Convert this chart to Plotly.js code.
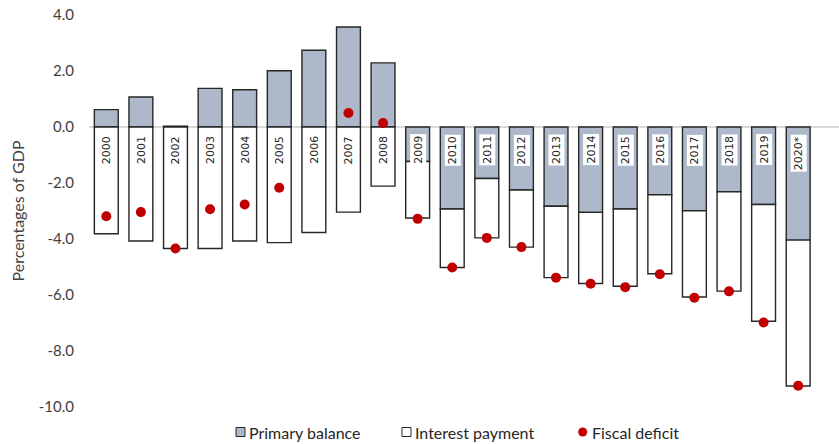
<!DOCTYPE html>
<html>
<head>
<meta charset="utf-8">
<script src="https://cdn.plot.ly/plotly-3.0.1.min.js"></script>
<style>
  html, body { margin: 0; padding: 0; background: #fff; }
  #chart { width: 839px; height: 444px; }
</style>
</head>
<body>
<div id="chart"></div>
<script>
// Fiscal balance decomposition, percentages of GDP
const years = ['2000','2001','2002','2003','2004','2005','2006','2007','2008','2009',
               '2010','2011','2012','2013','2014','2015','2016','2017','2018','2019','2020*'];
const primaryBalance = [0.62, 1.07, 0.03, 1.38, 1.33, 2.01, 2.74, 3.57, 2.29, -1.23,
                        -2.93, -1.84, -2.25, -2.83, -3.05, -2.93, -2.42, -2.99, -2.31, -2.77, -4.04];
const interestPayment = [3.81, 4.07, 4.34, 4.34, 4.07, 4.13, 3.77, 3.04, 2.11, 2.02,
                         2.09, 2.12, 2.04, 2.55, 2.54, 2.76, 2.82, 3.08, 3.55, 4.17, 5.21];
const fiscalDeficit = [-3.19, -3.04, -4.34, -2.94, -2.77, -2.17, -1.03, 0.50, 0.14, -3.28,
                       -5.02, -3.96, -4.29, -5.38, -5.60, -5.72, -5.26, -6.10, -5.87, -6.98, -9.24];
const yTicks = [4, 2, 0, -2, -4, -6, -8, -10];
const legendLabels = ['Primary balance', 'Interest payment', 'Fiscal deficit'];

const FONT = 'Lato, "Noto Sans", sans-serif';
const GREY_BLUE = '#ADB9CA';
const RED = '#C00000';
const EDGE = '#262626';

// page geometry of the plotting area
const W = 839, H = 444, L = 89, R = 0, T = 15, B = 37;
const px = x => (x - L) / (W - L - R);
const py = y => (H - B - y) / (H - T - B);

const traces = [
  {
    type: 'bar', name: legendLabels[0], x: years, y: primaryBalance,
    marker: { color: GREY_BLUE, line: { color: EDGE, width: 1.4 } },
    hoverinfo: 'x+y'
  },
  {
    type: 'bar', name: legendLabels[1], x: years, y: interestPayment.map(v => -v),
    marker: { color: '#FFFFFF', line: { color: EDGE, width: 1.4 } },
    hoverinfo: 'x+y'
  },
  {
    type: 'scatter', mode: 'markers', name: legendLabels[2], x: years, y: fiscalDeficit,
    marker: { color: RED, size: 10 }, cliponaxis: false,
    hoverinfo: 'x+y'
  }
];

// year labels sit just under the zero line, across the bars
// (category axes take the position index here)
const yearLabels = years.map((yr, i) => ({
  x: i, y: 0, xref: 'x', yref: 'y',
  text: yr, showarrow: false, textangle: -90,
  xanchor: 'center', yanchor: 'top', yshift: -7,
  bgcolor: '#FFFFFF', borderpad: 1,
  font: { family: '"DejaVu Sans", sans-serif', size: 11, color: EDGE }
}));

// light zero line kept underneath the bars
const zeroLine = {
  type: 'line', layer: 'below', xref: 'paper', yref: 'y',
  x0: 0, x1: 1, y0: 0, y1: 0,
  line: { color: '#D9D9D9', width: 2 }
};

// legend row along the bottom
const legendShapes = [
  { type: 'rect', xref: 'paper', yref: 'paper',
    x0: px(236), x1: px(245), y0: py(436.5), y1: py(427.5),
    fillcolor: GREY_BLUE, line: { color: EDGE, width: 1 } },
  { type: 'rect', xref: 'paper', yref: 'paper',
    x0: px(402), x1: px(411), y0: py(436.5), y1: py(427.5),
    fillcolor: '#FFFFFF', line: { color: EDGE, width: 1 } },
  { type: 'circle', xref: 'paper', yref: 'paper',
    x0: px(578.2), x1: px(587.2), y0: py(436.5), y1: py(427.5),
    fillcolor: RED, line: { color: RED, width: 0 } }
];
const legendText = [
  [legendLabels[0], 247], [legendLabels[1], 413], [legendLabels[2], 590]
].map(([t, x]) => ({
  x: px(x), y: py(432), xref: 'paper', yref: 'paper',
  text: t, showarrow: false, xanchor: 'left', yanchor: 'middle',
  font: { family: FONT, size: 16, color: EDGE }
}));

const layout = {
  width: W, height: H,
  margin: { l: L, r: R, t: T, b: B, pad: 0 },
  paper_bgcolor: '#FFFFFF', plot_bgcolor: '#FFFFFF',
  barmode: 'relative', bargap: 0.31,
  showlegend: false,
  font: { family: FONT, size: 15, color: '#404040' },
  xaxis: {
    type: 'category', range: [-0.5, 21.18],
    showticklabels: false, showgrid: false, zeroline: false, showline: false, ticks: ''
  },
  yaxis: {
    range: [-10, 4], tickvals: yTicks, ticktext: yTicks.map(v => v.toFixed(1)),
    showgrid: false, showline: false, ticks: '', zeroline: false,
    ticklabelstandoff: 14,
    tickfont: { family: FONT, size: 15, color: '#404040' },
    title: { text: 'Percentages of GDP', standoff: 10,
             font: { family: FONT, size: 16, color: '#404040' } }
  },
  annotations: yearLabels.concat(legendText),
  shapes: [zeroLine].concat(legendShapes)
};

Plotly.newPlot('chart', traces, layout, { displayModeBar: false, staticPlot: true });
</script>
</body>
</html>
